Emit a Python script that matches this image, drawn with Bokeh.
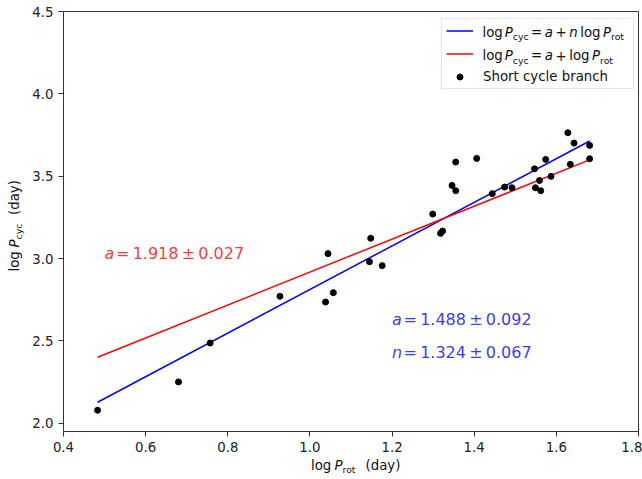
import math
from bokeh.plotting import figure
from bokeh.models import (Label, Legend, LegendItem, FixedTicker, Range1d,
                          PrintfTickFormatter, LinearAxis)
from bokeh.embed import file_html
from bokeh.resources import INLINE

# ---- data ----
log_prot = [0.483, 0.680, 0.757, 0.927, 1.038, 1.044, 1.057, 1.145, 1.148, 1.176,
            1.299, 1.318, 1.323, 1.346, 1.355, 1.355, 1.406, 1.444, 1.474, 1.492,
            1.547, 1.549, 1.559, 1.562, 1.574, 1.587, 1.628, 1.634, 1.643, 1.681, 1.681]
log_pcyc = [2.079, 2.251, 2.487, 2.771, 2.736, 3.030, 2.793, 2.981, 3.123, 2.957,
            3.270, 3.153, 3.167, 3.444, 3.412, 3.586, 3.608, 3.394, 3.434, 3.430,
            3.545, 3.430, 3.474, 3.412, 3.602, 3.499, 3.764, 3.572, 3.701, 3.687, 3.606]

fit_free_a = 1.488
fit_free_n = 1.324
fit_fixed_a = 1.918

x_ticks = [0.4, 0.6, 0.8, 1.0, 1.2, 1.4, 1.6, 1.8]
y_ticks = [2.0, 2.5, 3.0, 3.5, 4.0, 4.5]

X0, X1 = 0.4, 1.8      # axes limits
Y0, Y1 = 1.95, 4.5

# canvas geometry (pixels): the axes box sits at FL..FL+FW, FT..FT+FH
W, H = 642, 479
FL, FT, FW, FH = 63, 11, 575, 420
K = 0.33   # baseline correction (fraction of font size)


def dx(px):
    return X0 + (px - FL) / FW * (X1 - X0)


def dy(py):
    return Y1 - (py - FT) / FH * (Y1 - Y0)


p = figure(frame_width=W, frame_height=H, min_border=0,
           x_range=Range1d(dx(0), dx(W)), y_range=Range1d(dy(H), dy(0)),
           output_backend="svg", toolbar_location=None)
p.grid.visible = False
p.background_fill_color = "white"
p.border_fill_color = "white"
p.outline_line_color = None

SPINE = "#333333"
xa, ya = p.xaxis[0], p.yaxis[0]
xa.fixed_location = Y0
xa.bounds = (X0, X1)
ya.fixed_location = X0
ya.bounds = (Y0, Y1)
for ax, ticks in ((xa, x_ticks), (ya, y_ticks)):
    ax.ticker = FixedTicker(ticks=ticks)
    ax.formatter = PrintfTickFormatter(format="%.1f")
    ax.axis_line_color = SPINE
    ax.major_tick_line_color = SPINE
    ax.major_tick_in = 0
    ax.major_tick_out = 5
    ax.minor_tick_line_color = None
    ax.major_label_text_font = "DejaVu Sans"
    ax.major_label_text_font_size = "13.33px"
    ax.major_label_text_color = "#222222"
xa.major_label_standoff = 5
ya.major_label_standoff = 5

# top and right spines
top = LinearAxis(fixed_location=Y1, bounds=(X0, X1), ticker=FixedTicker(ticks=[]),
                 axis_line_color=SPINE, major_tick_line_color=None,
                 minor_tick_line_color=None, major_label_text_font_size="0px")
right = LinearAxis(fixed_location=X1, bounds=(Y0, Y1), ticker=FixedTicker(ticks=[]),
                   axis_line_color=SPINE, major_tick_line_color=None,
                   minor_tick_line_color=None, major_label_text_font_size="0px")
p.add_layout(top, "above")
p.add_layout(right, "right")

xl = [min(log_prot), max(log_prot)]
yb = [fit_free_a + fit_free_n * v for v in xl]
yr = [fit_fixed_a + v for v in xl]

r_blue = p.line(xl, yb, line_color="#0000ff", line_width=1.5)
r_red = p.line(xl, yr, line_color="#ff0000", line_width=1.5)
r_pts = p.scatter(log_prot, log_pcyc, size=6, fill_color="black", line_color="black")

legend = Legend(items=[LegendItem(label=" ", renderers=[r_blue]),
                       LegendItem(label=" ", renderers=[r_red]),
                       LegendItem(label="Short cycle branch", renderers=[r_pts])],
                location=(441, H - 89), margin=0, padding=4, spacing=8,
                glyph_width=27, glyph_height=15, label_height=15, label_width=146,
                label_standoff=10, label_text_font="DejaVu Sans",
                label_text_font_size="13.33px", label_text_color="#111111",
                border_line_color="#cccccc", border_line_width=1,
                background_fill_color="white", background_fill_alpha=0.0)
p.add_layout(legend)


def frag(text, px, py, size=13.33, italic=False, color="#111111", angle=0.0, alpha=1.0):
    if angle:
        px = px - K * size
    else:
        py = py - K * size
    p.add_layout(Label(x=dx(px), y=dy(py), text=text, text_font="DejaVu Sans",
                       text_font_size=f"{size}px",
                       text_font_style="italic" if italic else "normal",
                       text_color=color, text_alpha=alpha, angle=angle,
                       text_baseline="alphabetic", text_align="left"))


SUB = 9.33
# legend rich labels
for base, pieces in (
    (36, [("log", 482, False, False), ("P", 504.3, True, False), ("cyc", 512.3, False, True),
          ("=", 530.6, False, False), ("a", 544.3, True, False), ("+", 555, False, False),
          ("n", 568.7, True, False), ("log", 579.7, False, False), ("P", 602.5, True, False),
          ("rot", 610.5, False, True)]),
    (59.7, [("log", 482, False, False), ("P", 504.3, True, False), ("cyc", 512.3, False, True),
            ("=", 530.6, False, False), ("a", 544.3, True, False), ("+", 555, False, False),
            ("log", 568.7, False, False), ("P", 591.5, True, False), ("rot", 599.5, False, True)]),
):
    for t, x, it, sub in pieces:
        if sub:
            frag(t, x, base + 3, size=SUB)
        else:
            frag(t, x, base, italic=it)

# x axis label
frag("log", 310.5, 469)
frag("P", 334, 469, italic=True)
frag("rot", 342, 472, size=SUB)
frag("(day)", 365, 469)

# y axis label (rotated)
A = math.pi / 2
frag("log", 18, 271, angle=A)
frag("P", 18, 247, italic=True, angle=A)
frag("cyc", 21, 239, size=SUB, angle=A)
frag("(day)", 18, 214.5, angle=A)


# fit annotations
def note(sym, rest, x, y, color):
    sh = -K * 16 * (Y1 - Y0) / FH   # baseline correction in data units
    p.add_layout(Label(x=x, y=y - sh, text=sym, text_font="DejaVu Sans", text_font_size="16px",
                       text_font_style="italic", text_color=color, text_alpha=0.8,
                       text_baseline="alphabetic"))
    p.add_layout(Label(x=x, y=y - sh, x_offset=11.5, text=rest, text_font="DejaVu Sans",
                       text_font_size="16px", text_color=color, text_alpha=0.8,
                       text_baseline="alphabetic"))


note("a", "=\u20091.918\u2009±\u20090.027", 0.5, 3.0, "#ff0000")
note("a", "=\u20091.488\u2009±\u20090.092", 1.2, 2.6, "#0000ff")
note("n", "=\u20091.324\u2009±\u20090.067", 1.2, 2.4, "#0000ff")

open("out.html", "w").write(file_html(p, INLINE))
